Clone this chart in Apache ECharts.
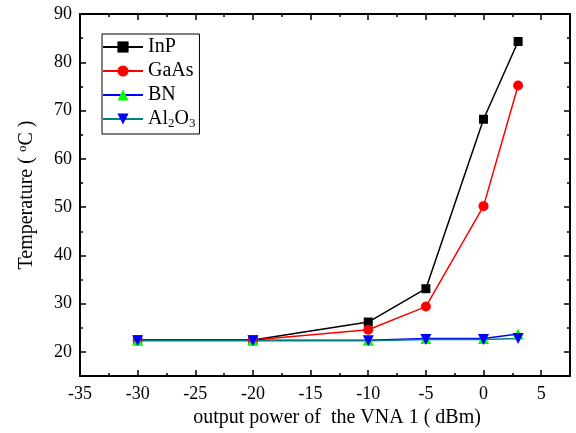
<!DOCTYPE html>
<html><head><meta charset="utf-8">
<script src="https://cdn.jsdelivr.net/npm/echarts@6/dist/echarts.min.js"></script>
<style>html,body{margin:0;padding:0;background:#fff}#c{width:576px;height:433px}</style>
</head><body><div id="c"></div>
<script>
const power = [-30, -20, -10, -5, 0, 3];
const inp   = [22.5, 22.5, 26.2, 33.1, 68.2, 84.3];
const gaas  = [22.5, 22.5, 24.6, 29.4, 50.2, 75.2];
const bn    = [22.4, 22.4, 22.4, 22.8, 22.8, 23.7];
const al2o3 = [22.3, 22.3, 22.3, 22.6, 22.6, 22.8];
const seriesNames = ['InP', 'GaAs', 'BN', 'Al2O3'];
const yMajor = [20, 30, 40, 50, 60, 70, 80, 90];
const yMinor = [25, 35, 45, 55, 65, 75, 85];

const font = 'Liberation Serif, Times New Roman, serif';
const pts = v => power.map((x, i) => [x, v[i]]);
const chart = echarts.init(document.getElementById('c'), null, {renderer: 'canvas'});
const tickStyle = {color: '#000', width: 1.5};
const xCommon = {
  type: 'value', min: -35, max: 7.5, interval: 5,
  axisLine: {onZero: false, lineStyle: {color: '#000', width: 2}},
  axisTick: {inside: true, length: 6, lineStyle: tickStyle},
  minorTick: {show: true, splitNumber: 2, length: 3, lineStyle: tickStyle},
  splitLine: {show: false}
};
const yCommon = {
  type: 'value', min: 15, max: 90, interval: 5,
  axisLine: {onZero: false, lineStyle: {color: '#000', width: 2}},
  axisTick: {inside: true, length: 6, customValues: yMajor, lineStyle: tickStyle},
  splitLine: {show: false}
};
const yMinorAxis = pos => ({
  type: 'value', min: 15, max: 90, interval: 5, position: pos,
  axisLine: {show: false, onZero: false},
  axisTick: {inside: true, length: 3, customValues: yMinor, lineStyle: tickStyle},
  axisLabel: {show: false}, splitLine: {show: false}
});
chart.setOption({
  animation: false,
  grid: {left: 80, right: 6, top: 14, bottom: 54},
  legend: {
    orient: 'vertical', left: 102, top: 34,
    padding: [1, 4, 3, 0], itemGap: 0, itemWidth: 40, itemHeight: 14,
    borderColor: '#000', borderWidth: 1,
    data: seriesNames,
    formatter: n => n === 'Al2O3' ? '{a|Al}{s|2}{a|O}{s|3}' : '{a|' + n + '}',
    textStyle: {color: '#000', fontFamily: font, fontSize: 20, lineHeight: 24,
      rich: {a: {fontFamily: font, fontSize: 20, lineHeight: 24, color: '#000'},
             s: {fontFamily: font, fontSize: 13, lineHeight: 24, color: '#000', padding: [10, 0, 0, 0]}}}
  },
  xAxis: [
    Object.assign({}, xCommon, {
      name: 'output power of  the VNA 1 ( dBm)', nameLocation: 'middle', nameGap: 31,
      nameTextStyle: {color: '#000', fontFamily: font, fontSize: 20, padding: [0, 0, 0, 24]},
      axisLabel: {color: '#000', fontFamily: font, fontSize: 18, margin: 9, showMaxLabel: false}}),
    Object.assign({}, xCommon, {position: 'top', axisLabel: {show: false}})
  ],
  yAxis: [
    Object.assign({}, yCommon, {
      name: 'Temperature ( {sup|o}C )', nameLocation: 'middle', nameGap: 42,
      nameTextStyle: {color: '#000', fontFamily: font, fontSize: 20,
        rich: {sup: {fontFamily: font, fontSize: 13, color: '#000', padding: [0, 0, 9, 0]}}},
      axisLabel: {color: '#000', fontFamily: font, fontSize: 18, margin: 8, customValues: yMajor}}),
    Object.assign({}, yCommon, {position: 'right', axisLabel: {show: false}}),
    yMinorAxis('left'),
    yMinorAxis('right')
  ],
  series: [
    {name: 'InP', type: 'line', data: pts(inp), symbol: 'rect', symbolSize: 9,
     lineStyle: {color: '#000', width: 1.5}, itemStyle: {color: '#000'}},
    {name: 'GaAs', type: 'line', data: pts(gaas), symbol: 'circle', symbolSize: 10,
     lineStyle: {color: '#ff0000', width: 1.5}, itemStyle: {color: '#ff0000'}},
    {name: 'BN', type: 'line', data: pts(bn), symbol: 'triangle', symbolSize: 11,
     lineStyle: {color: '#0000ff', width: 1.5}, itemStyle: {color: '#00ff00'}},
    {name: 'Al2O3', type: 'line', data: pts(al2o3), symbol: 'triangle', symbolRotate: 180, symbolSize: 11,
     lineStyle: {color: '#008080', width: 1.5}, itemStyle: {color: '#0000ff'}}
  ]
});
</script></body></html>
